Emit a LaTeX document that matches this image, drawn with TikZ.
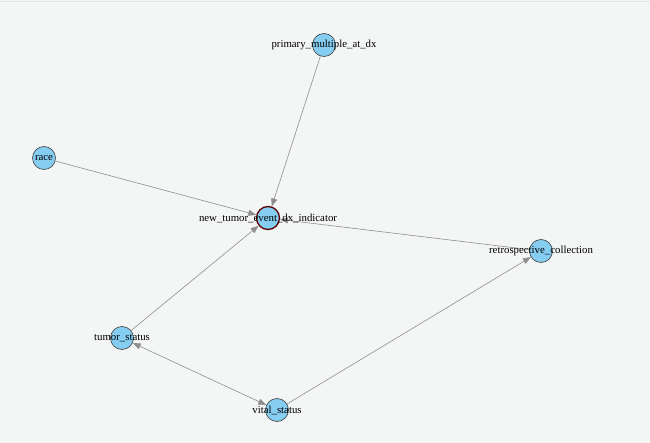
\documentclass[tikz,border=0pt]{standalone}
\usepackage{fontspec}
\setmainfont{Liberation Serif}
\usetikzlibrary{arrows.meta}
\definecolor{bgc}{HTML}{F4F6F5}
\definecolor{nodefill}{HTML}{86CDF2}
\definecolor{edgec}{HTML}{8E8E8E}
\definecolor{topline}{HTML}{E2E6E4}
\begin{document}
\begin{tikzpicture}[x=1pt,y=-1pt,
  vnode/.style={circle,draw=black!75,fill=nodefill,minimum size=23pt,inner sep=0pt,line width=0.6pt},
  hub/.style={vnode,draw=black!40!red!60!black,line width=1.3pt},
  lbl/.style={font=\fontsize{10.8}{11}\selectfont,text=black,inner sep=0pt},
  edge/.style={draw=edgec,line width=0.6pt,-{Triangle[length=8pt,width=6pt,fill=edgec]}}]
\useasboundingbox (0,0) rectangle (650,443);
\fill[bgc] (0,0) rectangle (650,443);
\draw[topline,line width=1.5pt] (0,1.5) -- (650,1.5);
\node[vnode] (pm) at (324,45) {};
\node[vnode] (race) at (44,158) {};
\node[hub] (nt) at (268,218) {};
\node[vnode] (rc) at (541,251) {};
\node[vnode] (ts) at (122,338) {};
\node[vnode] (vs) at (277,410) {};
\draw[edge] (pm) -- (nt);
\draw[edge] (race) -- (nt);
\draw[edge] (rc) -- (nt);
\draw[edge] (ts) -- (nt);
\draw[edge] (vs) -- (rc);
\draw[edge,{Triangle[length=8pt,width=6pt,fill=edgec]}-{Triangle[length=8pt,width=6pt,fill=edgec]}] (ts) -- (vs);
\node[lbl] at (pm) {primary\_multiple\_at\_dx};
\node[lbl] at (race) {race};
\node[lbl] at (nt) {new\_tumor\_event\_dx\_indicator};
\node[lbl] at (rc) {retrospective\_collection};
\node[lbl] at (ts) {tumor\_status};
\node[lbl] at (vs) {vital\_status};
\end{tikzpicture}
\end{document}
